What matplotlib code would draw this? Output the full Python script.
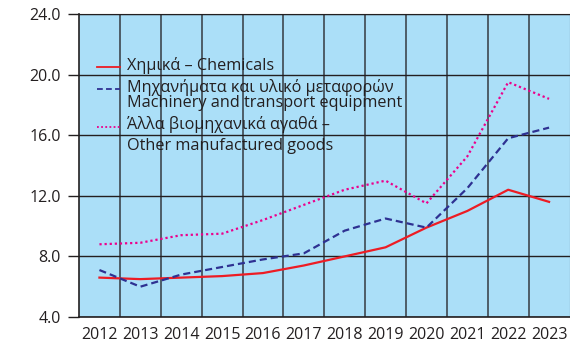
"""Exports by product group, 2012-2023 (Greek / English labels)."""

import matplotlib

matplotlib.use("Agg")
import matplotlib.pyplot as plt
import numpy as np

YEARS = [str(y) for y in range(2012, 2024)]
CHEMICALS = [6.6, 6.5, 6.6, 6.7, 6.9, 7.4, 8.0, 8.6, 9.9, 11.0, 12.4, 11.6]
MACHINERY = [7.1, 6.0, 6.8, 7.3, 7.8, 8.2, 9.7, 10.5, 9.9, 12.5, 15.8, 16.5]
OTHER_GOODS = [8.8, 8.9, 9.4, 9.5, 10.4, 11.4, 12.4, 13.0, 11.5, 14.6, 19.5, 18.4]

LABELS = [
    ["Χημικά – Chemicals"],
    ["Μηχανήματα και υλικό μεταφορών", "Machinery and transport equipment"],
    ["Άλλα βιομηχανικά αγαθά –", "Other manufactured goods"],
]
Y_TICKS = [4.0, 8.0, 12.0, 16.0, 20.0, 24.0]

TEXT = "#231f20"
plt.rcParams["font.family"] = ["Open Sans", "DejaVu Sans"]
plt.rcParams["font.size"] = 11.5


def main() -> None:
    fig = plt.figure(figsize=(5.7, 3.44), dpi=100)
    ax = fig.add_axes([79 / 570, 1 - 317 / 344, 490.5 / 570, 303 / 344])
    ax.set_facecolor("#abdff8")

    x = np.arange(len(YEARS))
    styles = [
        dict(color="#ed1c24", ls="-"),
        dict(color="#2e3192", ls=(0, (3.2, 1.8))),
        dict(color="#ec008c", ls=(0, (1, 1.3))),
    ]
    for values, st in zip([CHEMICALS, MACHINERY, OTHER_GOODS], styles):
        ax.plot(x, values, lw=1.6, **st)

    ax.set_xlim(-0.5, len(YEARS) - 0.5)
    ax.set_ylim(4, 24)
    ax.set_yticks(Y_TICKS)
    ax.set_yticklabels([f"{v:.1f}" for v in Y_TICKS], color=TEXT)
    ax.set_xticks(x)
    ax.set_xticklabels(YEARS, color=TEXT)
    ax.tick_params(axis="x", length=0, pad=7)
    ax.tick_params(axis="y", length=8, width=1.0, color="#231f20", pad=5)

    # category separators and value gridlines
    ax.set_xticks(np.arange(0.5, len(YEARS) - 0.5, 1), minor=True)
    ax.tick_params(axis="x", which="minor", length=0)
    ax.grid(axis="x", which="minor", color="#4e5d68", lw=1.4)
    ax.grid(axis="y", which="major", color="#231f20", lw=1.0)
    ax.set_axisbelow(True)

    for side in ("left", "bottom"):
        ax.spines[side].set_color("#231f20")
        ax.spines[side].set_linewidth(1.2)
    ax.spines["top"].set_color("#231f20")
    ax.spines["right"].set_color("#4e5d68")

    # key: swatch beside the first line of each label
    swatch_y = [0.824, 0.7535, 0.626]
    baselines = [[0.8152], [0.7416, 0.6921], [0.6205, 0.5512]]
    for label, st, sy, bys in zip(LABELS, styles, swatch_y, baselines):
        ax.plot([0.0367, 0.0836], [sy, sy], transform=ax.transAxes, lw=1.3, **st)
        for text, by in zip(label, bys):
            ax.text(0.0979, by, text, transform=ax.transAxes, fontsize=11.7,
                    color=TEXT, va="baseline", ha="left")

    fig.savefig("out.png", dpi=100)
    plt.close(fig)


if __name__ == "__main__":
    main()
